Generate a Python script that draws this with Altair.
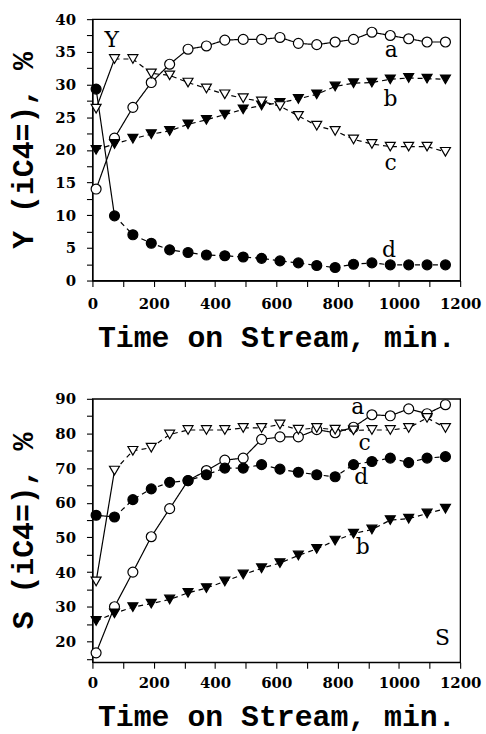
import altair as alt
import pandas as pd

# Sampling times (min) shared by all four runs
time = [12, 72, 132, 192, 252, 312, 372, 432, 492, 552,
        612, 672, 732, 792, 852, 912, 972, 1032, 1092, 1152]

# Yield of isobutene, %
yield_a = [14.0, 21.8, 26.5, 30.3, 33.1, 35.4, 35.9, 36.8, 36.9, 36.9,
           37.2, 36.3, 36.1, 36.5, 36.9, 38.0, 37.5, 37.0, 36.5, 36.5]
yield_b = [20.0, 20.9, 21.7, 22.4, 22.9, 23.9, 24.6, 25.4, 26.2, 26.8,
           27.2, 27.8, 28.5, 29.7, 30.2, 30.3, 30.8, 31.0, 30.9, 30.8]
yield_c = [26.3, 33.9, 33.9, 31.7, 31.4, 30.3, 29.4, 28.5, 27.9, 27.4,
           26.7, 25.2, 23.7, 22.9, 21.6, 20.9, 20.5, 20.5, 20.5, 19.7]
yield_d = [29.3, 9.9, 7.0, 5.7, 4.7, 4.3, 3.9, 3.8, 3.6, 3.4,
           3.0, 2.7, 2.3, 2.0, 2.5, 2.7, 2.4, 2.4, 2.4, 2.4]

# Selectivity to isobutene, %
sel_a = [16.7, 30.0, 40.0, 50.2, 58.3, 66.4, 69.3, 72.3, 72.9, 78.3,
         79.0, 79.0, 81.1, 80.2, 81.8, 85.4, 85.1, 87.1, 85.7, 88.3]
sel_b = [25.9, 28.1, 29.9, 30.9, 32.1, 34.0, 35.4, 37.3, 39.3, 41.1,
         42.6, 44.8, 46.7, 49.1, 51.1, 52.3, 55.0, 55.4, 56.9, 58.3]
sel_c = [37.3, 69.3, 75.0, 75.9, 79.7, 81.0, 81.0, 81.0, 81.6, 81.6,
         82.6, 81.1, 81.6, 81.1, 80.9, 81.0, 81.0, 81.6, 84.5, 81.6]
sel_d = [56.4, 55.9, 60.9, 64.0, 65.9, 66.4, 68.1, 70.0, 70.0, 71.0,
         69.7, 68.8, 68.1, 67.5, 71.0, 71.9, 72.9, 71.6, 72.9, 73.3]

# In-plot annotations: text, time, value
yield_notes = [("Y", 63, 36.8), ("a", 975, 35.3), ("b", 973, 27.7),
               ("c", 973, 18.0), ("d", 968, 4.6)]
sel_notes = [("a", 866, 87.5), ("c", 888, 77.3), ("d", 877, 67.3),
             ("b", 882, 47.3), ("S", 1142, 21.1)]

series_names = ["a", "b", "c", "d"]
# runs whose first step is drawn as a solid connector
solid_start = {"c", "d"}

LABEL_FONT = "DejaVu Serif"
TITLE_FONT = "Liberation Mono"


def build_frames(series):
    pts, segs = [], []
    for name, vals in zip(series_names, series):
        for i, (t, v) in enumerate(zip(time, vals)):
            pts.append({"t": t, "v": v, "run": name})
            if name == "a":
                segs.append({"t": t, "v": v, "run": name, "part": "a", "style": "solid"})
            else:
                if name in solid_start and i <= 1:
                    segs.append({"t": t, "v": v, "run": name,
                                 "part": name + "0", "style": "solid"})
                if not (name in solid_start and i == 0):
                    segs.append({"t": t, "v": v, "run": name,
                                 "part": name + "1", "style": "dashed"})
    return pd.DataFrame(pts), pd.DataFrame(segs)


def panel(series, notes, ydom, yvals, ymajor, ytitle, height, xlabpad, xtitle_y):
    pts, segs = build_frames(series)
    notes_df = pd.DataFrame(notes, columns=["txt", "t", "v"])

    x_axis = alt.Axis(
        values=list(range(0, 1201, 100)),
        format="d",
        labelExpr="datum.value % 200 == 0 ? datum.label : ''",
        title="Time on Stream, min.",
        titleFont=TITLE_FONT, titleFontSize=30, titleFontWeight="bold",
        titleBaseline="alphabetic", titleAlign="center", titleAngle=0,
        titleX=185, titleY=xtitle_y,
        labelPadding=xlabpad, labelFlush=False,
    )
    y_axis = alt.Axis(
        values=yvals,
        format="d",
        labelExpr=f"datum.value % {ymajor} == 0 ? datum.label : ''",
        title=ytitle,
        titleFont=TITLE_FONT, titleFontSize=30, titleFontWeight="bold",
        titleBaseline="alphabetic", titleAlign="center", titleAngle=270,
        titleX=-60, titleY=height / 2,
        labelPadding=11, labelFlush=False,
    )
    x = alt.X("t:Q", scale=alt.Scale(domain=[0, 1200], nice=False, zero=False), axis=x_axis)
    y = alt.Y("v:Q", scale=alt.Scale(domain=ydom, nice=False, zero=False), axis=y_axis)

    lines = alt.Chart(segs).mark_line(color="black", strokeWidth=1.2).encode(
        x=x, y=y,
        detail="part:N",
        strokeDash=alt.StrokeDash(
            "style:N",
            scale=alt.Scale(domain=["solid", "dashed"], range=[[1, 0], [5, 4]]),
            legend=None,
        ),
        order="t:Q",
    )
    marks = alt.Chart(pts).mark_point(
        filled=True, stroke="black", strokeWidth=1.2, size=100, opacity=1
    ).encode(
        x=x, y=y,
        shape=alt.Shape("run:N", scale=alt.Scale(
            domain=series_names,
            range=["circle", "triangle-down", "triangle-down", "circle"]), legend=None),
        fill=alt.Fill("run:N", scale=alt.Scale(
            domain=series_names, range=["white", "black", "white", "black"]), legend=None),
    )
    text = alt.Chart(notes_df).mark_text(
        font=LABEL_FONT, fontSize=22, color="black", align="center", baseline="middle"
    ).encode(x=x, y=y, text="txt:N")

    return alt.layer(lines, marks, text).properties(width=370, height=height)


top = panel([yield_a, yield_b, yield_c, yield_d], yield_notes,
            [0, 40], [v / 2 for v in range(0, 81, 5)], 5,
            "Y (iC4=), %", 263, 10, 66)
bottom = panel([sel_a, sel_b, sel_c, sel_d], sel_notes,
               [14, 90], list(range(15, 91, 5)), 10,
               "S (iC4=), %", 265, 7, 64)

chart = alt.vconcat(top, bottom, spacing=119, bounds="flush").properties(
    padding={"left": 8, "top": 9, "right": 4, "bottom": 2},
    background="white",
).configure_view(
    stroke="black", strokeWidth=1.3
).configure_axis(
    grid=False,
    domainColor="black", domainWidth=1.3,
    tickColor="black", tickSize=6, tickWidth=1.1,
    labelFont=LABEL_FONT, labelFontSize=15, labelFontWeight="bold", labelColor="black",
    titleColor="black",
)

chart.save("out.html", embed_options={"renderer": "svg", "actions": False})
